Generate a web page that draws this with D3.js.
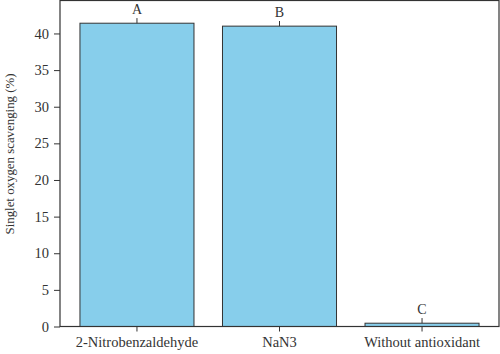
<!DOCTYPE html>
<html lang="en">
<head>
    <meta charset="UTF-8">
    <script src="https://cdnjs.cloudflare.com/ajax/libs/d3/7.8.5/d3.min.js"></script>
    <style>
        body { margin: 0; background: #fff; }
        svg { display: block; }
        text { font-family: "Liberation Serif", "DejaVu Serif", serif; fill: #333; }
    </style>
</head>
<body>
    <svg id="chart" width="500" height="354"></svg>
    <script>
        const categories = ["2-Nitrobenzaldehyde", "NaN3", "Without antioxidant"];
        const values = [41.4, 41.0, 0.45];
        const errors = [0.7, 0.7, 0.7];
        const letters = ["A", "B", "C"];
        const yTicks = [0, 5, 10, 15, 20, 25, 30, 35, 40];

        const svg = d3.select("#chart");
        const mLeft = 60, mRight = 499, mTop = 0.5, mBottom = 326.5;
        const dark = "#333";

        const xScale = d3.scaleBand()
            .domain(categories)
            .range([mLeft, mRight])
            .paddingInner(0.2)
            .paddingOuter(0.14);

        const yScale = d3.scaleLinear().domain([0, 44.5]).range([mBottom, mTop]);

        // bars
        svg.selectAll("rect.bar")
            .data(categories)
            .enter()
            .append("rect")
            .attr("class", "bar")
            .attr("x", d => xScale(d))
            .attr("width", xScale.bandwidth())
            .attr("y", (d, i) => yScale(values[i]))
            .attr("height", (d, i) => yScale(0) - yScale(values[i]))
            .attr("fill", "#87ceeb")
            .attr("stroke", dark)
            .attr("stroke-width", 1);

        // error bars (upper half only)
        svg.selectAll("line.err")
            .data(categories)
            .enter()
            .append("line")
            .attr("x1", d => xScale(d) + xScale.bandwidth() / 2)
            .attr("x2", d => xScale(d) + xScale.bandwidth() / 2)
            .attr("y1", (d, i) => yScale(values[i]))
            .attr("y2", (d, i) => yScale(values[i] + errors[i]))
            .attr("stroke", dark)
            .attr("stroke-width", 1);

        // significance letters
        svg.selectAll("text.letter")
            .data(categories)
            .enter()
            .append("text")
            .attr("x", d => xScale(d) + xScale.bandwidth() / 2)
            .attr("y", (d, i) => yScale(values[i] + errors[i]) - 4)
            .attr("text-anchor", "middle")
            .style("font-size", "14px")
            .text((d, i) => letters[i]);

        // frame
        svg.append("rect")
            .attr("x", mLeft)
            .attr("y", mTop)
            .attr("width", mRight - mLeft)
            .attr("height", mBottom - mTop)
            .attr("fill", "none")
            .attr("stroke", dark)
            .attr("stroke-width", 1.2);

        const yAxis = d3.axisLeft(yScale).tickValues(yTicks).tickSize(6).tickPadding(5);
        const yG = svg.append("g")
            .attr("transform", `translate(${mLeft},0)`)
            .call(yAxis);

        const xAxis = d3.axisBottom(xScale).tickSize(5).tickPadding(5);
        const xG = svg.append("g")
            .attr("transform", `translate(0,${mBottom})`)
            .call(xAxis);

        [yG, xG].forEach(g => {
            g.select(".domain").remove();
            g.selectAll(".tick line").attr("stroke", dark);
            g.selectAll(".tick text")
                .attr("fill", dark)
                .style("font-family", "'Liberation Serif', serif")
                .style("font-size", "14.5px");
        });

        svg.append("text")
            .attr("transform", `translate(14,154) rotate(-90)`)
            .attr("text-anchor", "middle")
            .attr("textLength", 161)
            .attr("lengthAdjust", "spacingAndGlyphs")
            .style("font-size", "13.5px")
            .text("Singlet oxygen scavenging (%)");
    </script>
</body>
</html>
